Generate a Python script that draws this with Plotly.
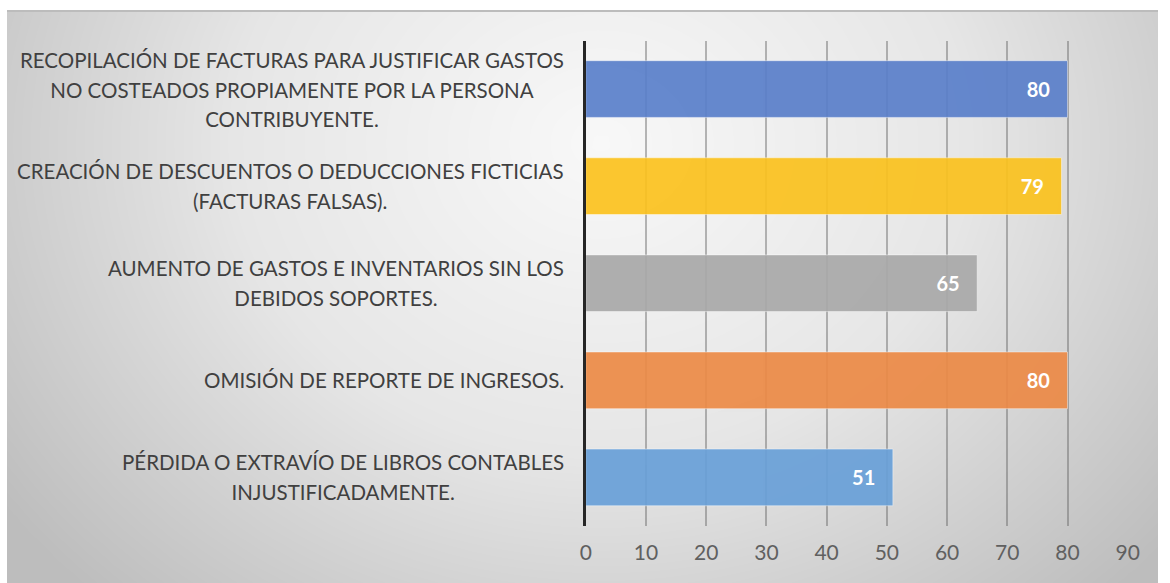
import numpy as np
import plotly.graph_objects as go

categories = [
    "RECOPILACIÓN DE FACTURAS PARA JUSTIFICAR GASTOS<br>NO COSTEADOS PROPIAMENTE POR LA PERSONA<br>CONTRIBUYENTE.",
    "CREACIÓN DE DESCUENTOS O DEDUCCIONES FICTICIAS<br>(FACTURAS FALSAS).",
    "AUMENTO DE GASTOS E INVENTARIOS SIN LOS<br>DEBIDOS SOPORTES.",
    "OMISIÓN DE REPORTE DE INGRESOS.",
    "PÉRDIDA O EXTRAVÍO DE LIBROS CONTABLES<br>INJUSTIFICADAMENTE.",
]
values = [80, 79, 65, 80, 51]
bar_colors = ["#5a7fca", "#fbc21e", "#a9a9a9", "#ec8a46", "#69a0d8"]
x_ticks = [0, 10, 20, 30, 40, 50, 60, 70, 80, 90]

FONT = "Lato, sans-serif"

# background radial gradient (style only)
W, H = 1163, 572
gx = np.linspace(0, W, 120)
gy = np.linspace(0, H, 60)
X, Y = np.meshgrid(gx, gy)
cx, cy = 600, 440  # y measured from bottom
R = np.sqrt(((X - cx) / 620) ** 2 + ((Y - cy) / 520) ** 2)
bg = np.clip(R, 0, 1.2)

fig = go.Figure()
fig.add_trace(go.Heatmap(
    x=gx, y=gy, z=bg, xaxis="x", yaxis="y", zsmooth="best",
    colorscale=[[0, "#f8f8f8"], [0.5, "#e6e6e6"], [1, "#bdbdbd"]],
    zmin=0, zmax=1.2, showscale=False, hoverinfo="skip",
))

fig.add_trace(go.Bar(
    x=values, y=categories, orientation="h", xaxis="x2", yaxis="y2",
    marker=dict(color=bar_colors, opacity=0.92,
                line=dict(color="rgba(255,255,255,0.45)", width=1)),
    text=[f"{v}\u00a0\u00a0\u00a0" for v in values], textposition="inside",
    insidetextanchor="end",
    textfont=dict(family=FONT, size=20, color="white", weight="bold"),
    hoverinfo="skip",
))

for c in categories:
    inner = "<br>".join(
        f"<span style='font-size:20.5px'>{ln}</span>" for ln in c.split("<br>")
    )
    fig.add_annotation(
        x=0, y=c, xref="x2", yref="y2", text=inner, showarrow=False,
        xanchor="right", align="center", xshift=-20,
        font=dict(family=FONT, size=22.7, color="#404040"),
    )

fig.add_shape(type="line", xref="paper", yref="paper", x0=0, x1=1, y0=1, y1=1,
              line=dict(color="#bcbcbc", width=2))

fig.update_layout(
    width=1170, height=583,
    margin=dict(l=7, r=0, t=11, b=0),
    paper_bgcolor="white", plot_bgcolor="rgba(0,0,0,0)",
    showlegend=False, bargap=0.416,
    xaxis=dict(domain=[0, 1], range=[0, W], visible=False, fixedrange=True),
    yaxis=dict(domain=[0, 1], range=[0, H], visible=False, fixedrange=True),
    xaxis2=dict(domain=[0.5028, 0.9737], range=[0, 90], anchor="y2",
                tickvals=x_ticks, showgrid=True,
                gridcolor="rgba(100,100,100,0.45)", gridwidth=1.5,
                zeroline=False, showline=False, ticks="",
                ticklabelstandoff=12,
                tickfont=dict(family=FONT, size=21, color="#606060")),
    yaxis2=dict(domain=[0.0997, 0.9484], anchor="x2",
                categoryorder="array", categoryarray=categories[::-1],
                showticklabels=False, showline=True, linecolor="#262626",
                linewidth=3, showgrid=False, ticks=""),
)

fig.write_html("out.html", config={"displayModeBar": False},
               post_script="document.body.style.margin='0';document.body.style.overflow='hidden';")
